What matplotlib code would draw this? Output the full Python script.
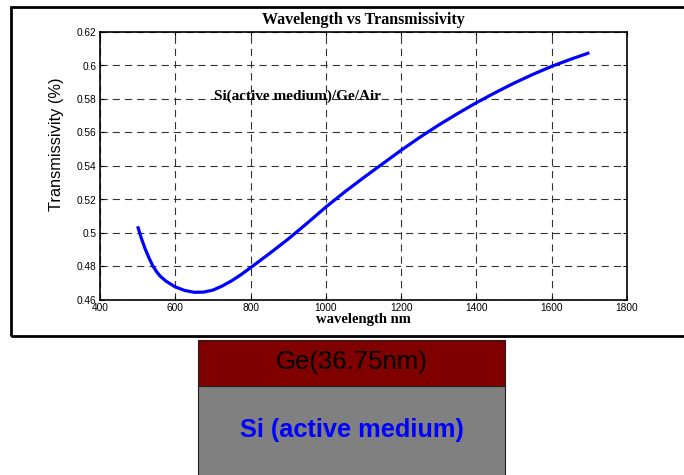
import matplotlib
matplotlib.use("Agg")
import matplotlib.pyplot as plt
from matplotlib.patches import Rectangle

# ---- data ----
wavelength_nm = [500, 510, 520, 530, 540, 550, 560, 575, 600, 625, 650, 675, 700,
                 725, 750, 775, 800, 850, 900, 950, 1000, 1050, 1100, 1150, 1200,
                 1250, 1300, 1350, 1400, 1450, 1500, 1550, 1600, 1650, 1700]
transmissivity = [0.5040, 0.4968, 0.4905, 0.4852, 0.4805, 0.4770, 0.4742, 0.4713,
                  0.4678, 0.4657, 0.4646, 0.4647, 0.4659, 0.4684, 0.4715, 0.4752,
                  0.4793, 0.4877, 0.4964, 0.5058, 0.5155, 0.5245, 0.5330, 0.5412,
                  0.5494, 0.5572, 0.5645, 0.5713, 0.5778, 0.5838, 0.5895, 0.5947,
                  0.5995, 0.6037, 0.6076]
x_ticks = [400, 600, 800, 1000, 1200, 1400, 1600, 1800]
y_ticks = [0.46, 0.48, 0.5, 0.52, 0.54, 0.56, 0.58, 0.6, 0.62]
y_tick_labels = ["0.46", "0.48", "0.5", "0.52", "0.54", "0.56", "0.58", "0.6", "0.62"]

title_text = "Wavelength vs Transmissivity"
xlabel_text = "wavelength nm"
ylabel_text = "Transmissivity (%)"
annot_text = "Si(active medium)/Ge/Air"
layer_top = "Ge(36.75nm)"
layer_bottom = "Si (active medium)"

W, H = 684, 475
fig = plt.figure(figsize=(W / 100, H / 100), dpi=100)
fig.patch.set_facecolor("white")

def fx(px):
    return px / W

def fy(py):
    return 1 - py / H

# outer frame (right side runs off the image)
frame = Rectangle((fx(11), fy(336)), fx(700), fy(7) - fy(336), transform=fig.transFigure,
                  fill=False, edgecolor="black", linewidth=2.0)
fig.add_artist(frame)

# axes
ax = fig.add_axes([fx(100), fy(300), fx(627) - fx(100), fy(32) - fy(300)])
ax.plot(wavelength_nm, transmissivity, color="#0000ff", linewidth=2.3,
        solid_joinstyle="round", solid_capstyle="butt")
ax.set_xlim(400, 1800)
ax.set_ylim(0.46, 0.62)
ax.set_xticks(x_ticks)
ax.set_xticklabels([str(v) for v in x_ticks])
ax.set_yticks(y_ticks)
ax.set_yticklabels(y_tick_labels)
ax.grid(True, color="0.2", linestyle=(0, (6.5, 4.5)), linewidth=0.8)
ax.tick_params(direction="in", length=3, width=0.8, top=True, right=True,
               labelsize=7.3, pad=2.5)
for lab in ax.get_xticklabels() + ax.get_yticklabels():
    lab.set_family("Liberation Sans")
for sp in ax.spines.values():
    sp.set_linewidth(1.2)

fig.text(fx(363.5), fy(20), title_text, ha="center", va="center",
         family="Liberation Serif", weight="bold", fontsize=11.5)
fig.text(fx(363.5), fy(320), xlabel_text, ha="center", va="center",
         family="Liberation Serif", weight="bold", fontsize=10.5)
fig.text(fx(57), fy(144), ylabel_text, ha="center", va="center", rotation=90,
         family="Liberation Sans", fontsize=11.8)
fig.text(fx(298), fy(96), annot_text, ha="center", va="center",
         family="Liberation Serif", weight="bold", fontsize=11)

# layer diagram
ge = Rectangle((fx(198), fy(385.5)), fx(505) - fx(198), fy(340) - fy(385.5),
               transform=fig.transFigure, facecolor="#800000", edgecolor="#202020",
               linewidth=0.8)
si = Rectangle((fx(198), fy(490)), fx(505) - fx(198), fy(385.5) - fy(490),
               transform=fig.transFigure, facecolor="#808080", edgecolor="#202020",
               linewidth=0.8)
fig.add_artist(si)
fig.add_artist(ge)
fig.text(fx(352), fy(362), layer_top, ha="center", va="center",
         family="Liberation Sans", fontsize=18.5, color="black")
fig.text(fx(352), fy(430), layer_bottom, ha="center", va="center",
         family="Liberation Sans", weight="bold", fontsize=18.3, color="#0000ff")

fig.savefig("out.png", dpi=100)
